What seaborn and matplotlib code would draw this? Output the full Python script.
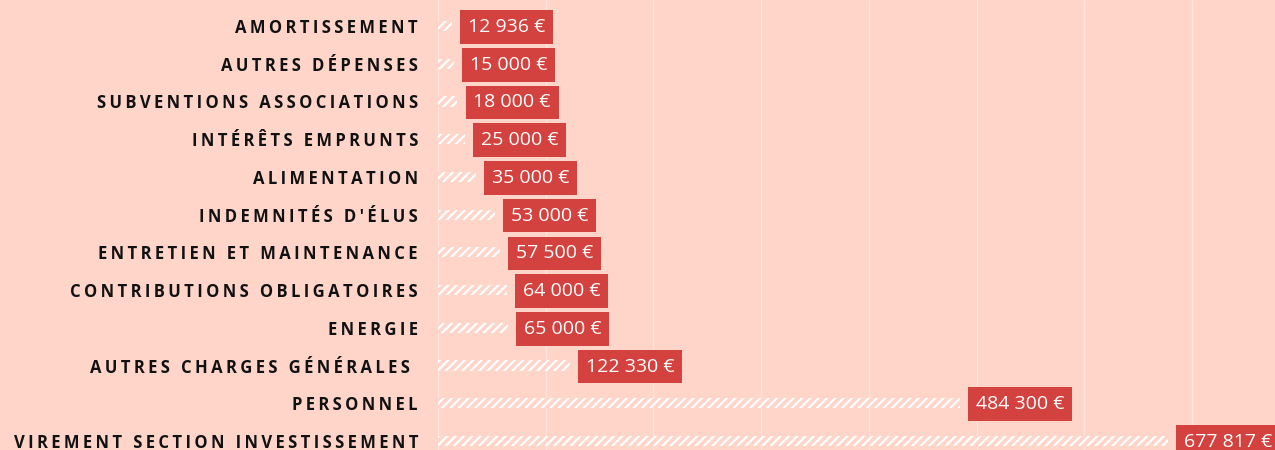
import matplotlib.pyplot as plt
import seaborn as sns
from matplotlib.ticker import MultipleLocator

# postes de dépenses (haut -> bas) et montants en euros
categories = ["AMORTISSEMENT", "AUTRES DÉPENSES", "SUBVENTIONS ASSOCIATIONS",
              "INTÉRÊTS EMPRUNTS", "ALIMENTATION", "INDEMNITÉS D'ÉLUS",
              "ENTRETIEN ET MAINTENANCE", "CONTRIBUTIONS OBLIGATOIRES", "ENERGIE",
              "AUTRES CHARGES GÉNÉRALES ", "PERSONNEL", "VIREMENT SECTION INVESTISSEMENT"]
values = [12936, 15000, 18000, 25000, 35000, 53000, 57500, 64000, 65000,
          122330, 484300, 677817]

bg = '#FFD5CA'
red = '#D4423F'

sns.set_style('white', {'axes.facecolor': bg, 'figure.facecolor': bg})
plt.rcParams['font.family'] = ['Open Sans', 'DejaVu Sans']
plt.rcParams['hatch.color'] = 'white'
plt.rcParams['hatch.linewidth'] = 1.6


def spaced(s):
    # espacement des lettres façon titre
    return '\u2009'.join(s)


def euros(v):
    return f"{v:,}".replace(',', ' ') + ' €'


fig = plt.figure(figsize=(12.75, 4.5), dpi=100)
ax = fig.add_axes([438 / 1275, 0, 1 - 438 / 1275, 1])

sns.barplot(x=values, y=categories, orient='h', color=bg, saturation=1,
            width=0.27, ax=ax)
for p in ax.patches:
    p.set_hatch('////')
    p.set_edgecolor('white')
    p.set_linewidth(0)

ax.set_xlim(0, 777000)
ax.set_ylim(11.24, -0.69)
ax.xaxis.set_major_locator(MultipleLocator(100000))
ax.grid(axis='x', color='white', alpha=0.35, lw=1)
ax.set_axisbelow(True)
ax.tick_params(axis='x', labelbottom=False, length=0)
ax.tick_params(axis='y', length=0, pad=14.4)
ax.set_yticks(range(len(categories)))
ax.set_yticklabels([spaced(c) for c in categories], fontweight='bold',
                   fontsize=12, color='#111111')
ax.set_xlabel('')
ax.set_ylabel('')
sns.despine(ax=ax, left=True, bottom=True)

for i, v in enumerate(values):
    ax.annotate(euros(v), xy=(v, i), xytext=(7 + 9, -1), textcoords='offset pixels',
                ha='left', va='center', color='white', fontsize=14,
                bbox=dict(boxstyle='square,pad=0.4', fc=red, ec='none'),
                annotation_clip=False)

fig.savefig('out.png', dpi=100, facecolor=bg)
